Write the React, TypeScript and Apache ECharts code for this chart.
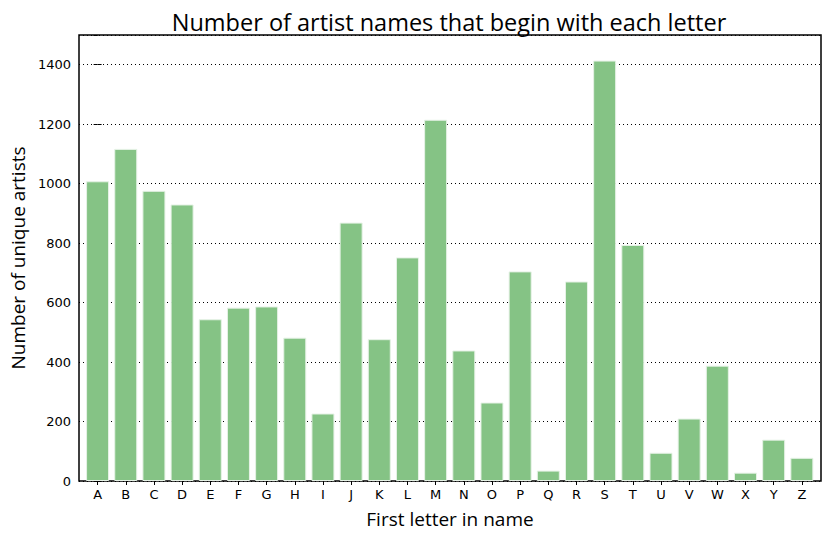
import React, { useEffect, useRef } from 'react';
import * as echarts from 'echarts';

const letters = ['A', 'B', 'C', 'D', 'E', 'F', 'G', 'H', 'I', 'J', 'K', 'L', 'M', 'N', 'O', 'P', 'Q', 'R', 'S', 'T', 'U', 'V', 'W', 'X', 'Y', 'Z'];
const artistCounts = [1008, 1117, 976, 930, 544, 583, 587, 482, 227, 869, 477, 752, 1215, 439, 264, 705, 35, 671, 1414, 794, 95, 210, 388, 28, 139, 78];
const letterPositions = letters.map((_, i) => i);

const titleFont = 'Open Sans';
const tickFont = 'DejaVu Sans';

const App = () => {
  const chartRef = useRef<HTMLDivElement>(null);

  useEffect(() => {
    const chart = echarts.init(chartRef.current!, null, { renderer: 'svg' });

    const xMin = -0.66;
    const xMax = 25.68;

    chart.setOption({
      animation: false,
      title: {
        text: 'Number of artist names that begin with each letter',
        left: 444,
        textAlign: 'center',
        top: 5,
        textStyle: { fontFamily: titleFont, fontSize: 23.5, fontWeight: 'normal', color: '#000' },
      },
      grid: {
        left: 77,
        right: 8,
        top: 35,
        bottom: 55,
        show: true,
        borderColor: '#000',
        borderWidth: 1.5,
        backgroundColor: 'transparent',
      },
      xAxis: [
        {
          type: 'value',
          min: xMin,
          max: xMax,
          position: 'bottom',
          name: 'First letter in name',
          nameLocation: 'middle',
          nameGap: 28,
          nameTextStyle: { fontFamily: titleFont, fontSize: 19, color: '#000' },
          axisLine: { show: false },
          splitLine: { show: false },
          axisTick: { show: true, inside: true, length: 4, customValues: letterPositions, lineStyle: { color: '#000' } },
          axisLabel: {
            customValues: letterPositions,
            formatter: (v: number) => letters[Math.round(v)] ?? '',
            fontFamily: tickFont,
            fontSize: 13,
            color: '#000',
            margin: 7,
          },
        },
        {
          type: 'value',
          min: xMin,
          max: xMax,
          position: 'top',
          axisLine: { show: false },
          splitLine: { show: false },
          axisTick: { show: true, inside: true, length: 4, customValues: letterPositions, lineStyle: { color: '#000' } },
          axisLabel: { show: false },
        },
      ],
      yAxis: [
        {
          type: 'value',
          min: 0,
          max: 1500,
          interval: 200,
          name: 'Number of unique artists',
          nameLocation: 'middle',
          nameGap: 52,
          nameTextStyle: { fontFamily: titleFont, fontSize: 19, color: '#000' },
          axisLine: { show: false },
          axisTick: { show: true, inside: true, length: 4, lineStyle: { color: '#000' } },
          axisLabel: {
            fontFamily: tickFont,
            fontSize: 13,
            color: '#000',
            margin: 8,
            showMaxLabel: false,
            formatter: (v: number) => String(v),
          },
          splitLine: { show: true, lineStyle: { color: '#000', type: [1, 3], width: 1 } },
        },
        {
          type: 'value',
          min: 0,
          max: 1500,
          interval: 200,
          position: 'right',
          axisLine: { show: false },
          axisTick: { show: true, inside: true, length: 4, lineStyle: { color: '#000' } },
          axisLabel: { show: false },
          splitLine: { show: false },
        },
      ],
      series: [
        {
          type: 'bar',
          xAxisIndex: 0,
          yAxisIndex: 0,
          barWidth: 23,
          data: artistCounts.map((v, i) => [i, v]),
          itemStyle: { color: '#85c385', borderColor: '#e6f2e6', borderWidth: 1 },
        },
      ],
    });

    return () => {
      chart.dispose();
    };
  }, []);

  return (
    <div
      ref={chartRef}
      style={{ position: 'absolute', left: 0, top: 0, width: '829px', height: '536px', background: '#fff' }}
    ></div>
  );
};

export default App;
